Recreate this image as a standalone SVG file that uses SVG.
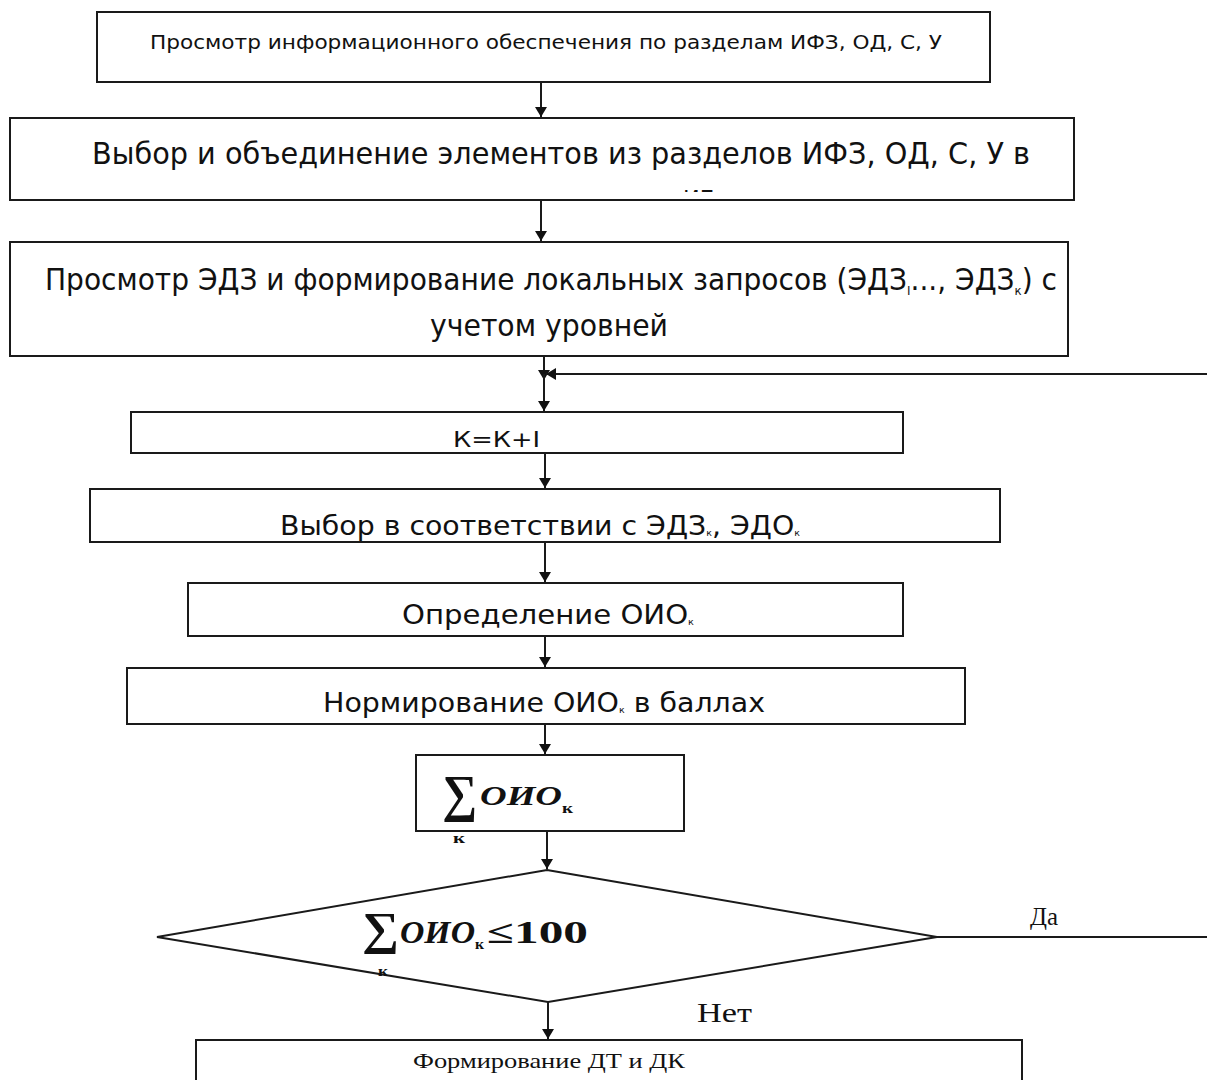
<svg xmlns="http://www.w3.org/2000/svg" width="1207" height="1080" viewBox="0 0 1207 1080">
<style>
.box{fill:#fff;stroke:#1a1a1a;stroke-width:2}
.ln{fill:none;stroke:#1a1a1a;stroke-width:2}
.sans{font-family:"DejaVu Sans Condensed","DejaVu Sans","Liberation Sans",sans-serif;fill:#111}
.serif{font-family:"Liberation Serif","Times New Roman",serif;fill:#111}
.math{font-family:"Liberation Serif","Times New Roman",serif;font-weight:bold;font-style:italic;fill:#111}
.sub{font-family:"Liberation Serif","Times New Roman",serif;font-weight:bold;fill:#111}
</style>
<defs>
<marker id="ah" viewBox="0 0 10 12" refX="10" refY="6" markerWidth="10" markerHeight="12" markerUnits="userSpaceOnUse" orient="auto">
<path d="M0,0 L10,6 L0,12 Z" fill="#111"/>
</marker>
<clipPath id="clip2"><rect x="600" y="189" width="200" height="3"/></clipPath>
</defs>
<rect width="1207" height="1080" fill="#fff"/>

<g id="connectors">
<line class="ln" x1="541" y1="82" x2="541" y2="117" marker-end="url(#ah)"/>
<line class="ln" x1="541" y1="200" x2="541" y2="241" marker-end="url(#ah)"/>
<line class="ln" x1="544" y1="356" x2="544" y2="380" marker-end="url(#ah)"/>
<line class="ln" x1="544" y1="374" x2="544" y2="411" marker-end="url(#ah)"/>
<line class="ln" x1="1207" y1="374" x2="546" y2="374" marker-end="url(#ah)"/>
<line class="ln" x1="545" y1="453" x2="545" y2="488" marker-end="url(#ah)"/>
<line class="ln" x1="545" y1="542" x2="545" y2="582" marker-end="url(#ah)"/>
<line class="ln" x1="545" y1="636" x2="545" y2="667" marker-end="url(#ah)"/>
<line class="ln" x1="545" y1="724" x2="545" y2="754" marker-end="url(#ah)"/>
<line class="ln" x1="547" y1="831" x2="547" y2="869" marker-end="url(#ah)"/>
<line class="ln" x1="937" y1="937" x2="1207" y2="937"/>
<line class="ln" x1="548" y1="1002" x2="548" y2="1039" marker-end="url(#ah)"/>
<text class="serif" x="1030" y="925" font-size="26" textLength="28" lengthAdjust="spacingAndGlyphs">Да</text>
<text class="serif" x="697" y="1022" font-size="27" textLength="55" lengthAdjust="spacingAndGlyphs">Нет</text>
</g>

<g id="n1">
<rect class="box" x="97" y="12" width="893" height="70"/>
<text class="sans" x="150" y="49" font-size="19.5" textLength="792" lengthAdjust="spacingAndGlyphs">Просмотр информационного обеспечения по разделам ИФЗ, ОД, С, У</text>
</g>

<g id="n2">
<rect class="box" x="10" y="118" width="1064" height="82"/>
<text class="sans" x="92" y="164" font-size="31" textLength="938" lengthAdjust="spacingAndGlyphs">Выбор и объединение элементов из разделов ИФЗ, ОД, С, У в</text>
<text class="sans" x="683" y="211" font-size="29" textLength="32" lengthAdjust="spacingAndGlyphs" clip-path="url(#clip2)">ИБ</text>
</g>

<g id="n3">
<rect class="box" x="10" y="242" width="1058" height="114"/>
<text class="sans" x="45" y="290" font-size="31" textLength="1012" lengthAdjust="spacingAndGlyphs">Просмотр ЭДЗ и формирование локальных запросов (ЭДЗ<tspan font-size="13" dy="5">I</tspan><tspan dy="-5">..., ЭДЗ</tspan><tspan font-size="13" dy="5">к</tspan><tspan dy="-5">) с</tspan></text>
<text class="sans" x="430" y="336" font-size="31" textLength="238" lengthAdjust="spacingAndGlyphs">учетом уровней</text>
</g>

<g id="n4">
<rect class="box" x="131" y="412" width="772" height="41"/>
<text class="sans" x="453" y="447" font-size="22" textLength="87" lengthAdjust="spacingAndGlyphs">К=К+I</text>
</g>

<g id="n5">
<rect class="box" x="90" y="489" width="910" height="53"/>
<text class="sans" x="280" y="535" font-size="27" textLength="520" lengthAdjust="spacingAndGlyphs">Выбор в соответствии с ЭДЗ<tspan font-size="9" dy="1">к</tspan><tspan dy="-1">, ЭДО</tspan><tspan font-size="9" dy="1">к</tspan></text>
</g>

<g id="n6">
<rect class="box" x="188" y="583" width="715" height="53"/>
<text class="sans" x="402" y="624" font-size="27" textLength="292" lengthAdjust="spacingAndGlyphs">Определение ОИО<tspan font-size="9" dy="1">к</tspan></text>
</g>

<g id="n7">
<rect class="box" x="127" y="668" width="838" height="56"/>
<text class="sans" x="323" y="712" font-size="27" textLength="442" lengthAdjust="spacingAndGlyphs">Нормирование ОИО<tspan font-size="9" dy="1">к</tspan><tspan dy="-1"> в баллах</tspan></text>
</g>

<g id="n8">
<rect class="box" x="416" y="755" width="268" height="76"/>
<text class="sub" x="442" y="811" font-size="52" textLength="35" lengthAdjust="spacingAndGlyphs">∑</text>
<text class="math" x="480" y="805" font-size="28" textLength="82" lengthAdjust="spacingAndGlyphs">ОИО</text>
<text class="sub" x="562" y="813" font-size="15" textLength="11" lengthAdjust="spacingAndGlyphs">к</text>
<text class="sub" x="453" y="843" font-size="15" textLength="12" lengthAdjust="spacingAndGlyphs">к</text>
</g>

<g id="n9">
<polygon class="box" points="547,870 937,937 548,1002 157,937"/>
<text class="sub" x="362" y="944" font-size="46" textLength="37" lengthAdjust="spacingAndGlyphs">∑</text>
<text class="math" x="400" y="943" font-size="32" textLength="75" lengthAdjust="spacingAndGlyphs">ОИО</text>
<text class="sub" x="475" y="949" font-size="15" textLength="9" lengthAdjust="spacingAndGlyphs">к</text>
<text class="sub" x="487" y="943" font-size="32" textLength="101" lengthAdjust="spacingAndGlyphs">≤100</text>
<text class="sub" x="378" y="976" font-size="15" textLength="10" lengthAdjust="spacingAndGlyphs">к</text>
</g>

<g id="n10">
<rect class="box" x="196" y="1040" width="826" height="50"/>
<text class="serif" x="413" y="1068" font-size="21" textLength="272" lengthAdjust="spacingAndGlyphs">Формирование ДТ и ДК</text>
</g>
</svg>
